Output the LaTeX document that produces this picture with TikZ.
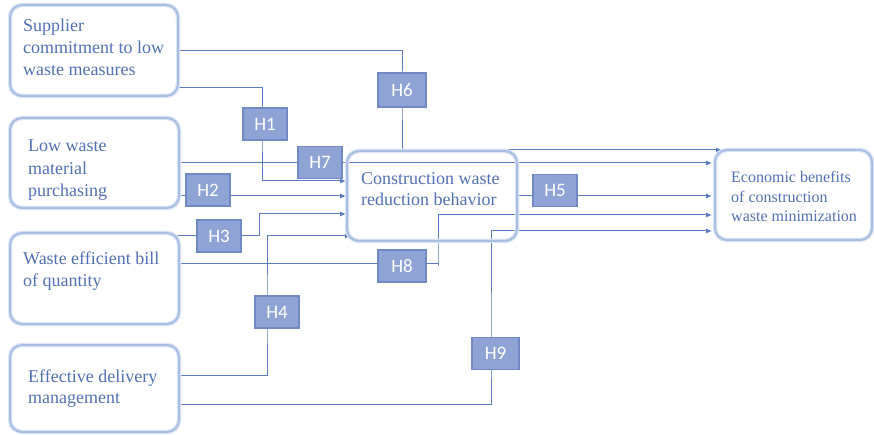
\documentclass[tikz,border=0pt]{standalone}
\usepackage{fontspec}
\setmainfont{Liberation Serif}
\newfontfamily\hfont{Carlito}
\usetikzlibrary{arrows.meta,backgrounds,calc}
\definecolor{txtc}{HTML}{5270B4}
\definecolor{linec}{HTML}{5B7BC0}
\definecolor{boxc}{HTML}{A9BEE3}
\definecolor{haloc}{HTML}{DCE5F5}
\definecolor{hfill}{HTML}{8FA4D4}
\definecolor{hdraw}{HTML}{7189C5}
\begin{document}
\begin{tikzpicture}[x=1pt,y=-1pt,
 bigbox/.style={draw=boxc, line width=2pt, rounded corners=12pt, preaction={draw=haloc, line width=4.5pt}, inner sep=0pt},
 lbl/.style={anchor=base west, inner sep=0pt, align=left, text=txtc, font=\fontsize{18}{22}\selectfont},
 hbox/.style={draw=hdraw, fill=hfill, line width=1.5pt, text=white, font=\hfont\fontsize{19}{19}\selectfont, inner sep=0pt, minimum width=44pt, minimum height=32pt},
 conn/.style={draw=linec, line width=1pt},
 arr/.style={conn, -{Latex[length=6pt,width=5pt]}}
]
\useasboundingbox (0,0) rectangle (874,435);
% main boxes
\node[bigbox, minimum width=168pt, minimum height=91pt] (sup) at (94,50.5) {};
\node[bigbox, minimum width=169pt, minimum height=90pt] (low) at (94.5,163) {};
\node[bigbox, minimum width=169pt, minimum height=91pt] (wef) at (94.5,278.5) {};
\node[bigbox, minimum width=169pt, minimum height=87pt] (eff) at (94.5,388.5) {};
\node[bigbox, minimum width=170pt, minimum height=90pt] (con) at (432,196) {};
\node[bigbox, minimum width=157pt, minimum height=90pt] (eco) at (793.5,195) {};
% texts (anchor at baseline of the last line)
\node[lbl] (tsup) at (23,76) {Supplier\\commitment to low\\waste measures};
\node[lbl, font=\fontsize{18}{22.5}\selectfont] (tlow) at (28,197) {Low waste\\material\\purchasing};
\node[lbl] (twef) at (23,287) {Waste efficient bill\\of quantity};
\node[lbl, font=\fontsize{18}{21}\selectfont] (teff) at (28,403) {Effective delivery\\management};
\node[lbl, font=\fontsize{18}{21}\selectfont] (tcon) at (361,206) {Construction waste\\reduction behavior};
\node[lbl, font=\fontsize{16}{19.5}\selectfont] (teco) at (731,222) {Economic benefits\\of construction\\waste minimization};
% hypothesis boxes
\node[hbox] (h1) at (265,124) {H1};
\node[hbox] (h2) at (208,190) {H2};
\node[hbox] (h3) at (219,236) {H3};
\node[hbox] (h4) at (277,312) {H4};
\node[hbox] (h5) at (555,190.5) {H5};
\node[hbox, minimum width=48pt, minimum height=34pt] (h6) at (402,90) {H6};
\node[hbox] (h7) at (320,162.5) {H7};
\node[hbox, minimum width=48pt] (h8) at (402,266) {H8};
\node[hbox, minimum width=47pt] (h9) at (495.5,353.5) {H9};
% connectors
\begin{scope}[on background layer]
\draw[arr] (sup.east) -| (h6.center) |- ([xshift=8pt,yshift=45pt]eco.west);
\draw[arr] ([yshift=-37.5pt]sup.east) -| ([xshift=-3pt]h1.center) |- ([yshift=15pt]con.west);
\draw[arr] (low.east) -- ([xshift=-2pt,yshift=32pt]eco.west);
\draw[arr] ([yshift=-33pt]low.east) -- (con.west);
\draw[arr] ([xshift=-8pt,yshift=42.5pt]wef.east) -- ++(87,0) |- ([yshift=-18pt]con.west);
\draw[arr] ([yshift=13.5pt]eff.east) -| ([xshift=-10pt]h4.center) |- ([xshift=5pt,yshift=-40pt]con.west);
\draw[arr] ([yshift=15pt]wef.east) -| ($(h8.center)+(36,0)$) |- ([xshift=-2pt,yshift=-20pt]eco.west);
\draw[arr] (con.east) -- ([xshift=-2pt,yshift=-1pt]eco.west);
\draw[arr] ([yshift=-15.5pt]eff.east) -| ([xshift=-4.5pt]h9.center) |- ([xshift=-2pt,yshift=-36pt]eco.west);
\end{scope}
\end{tikzpicture}
\end{document}
